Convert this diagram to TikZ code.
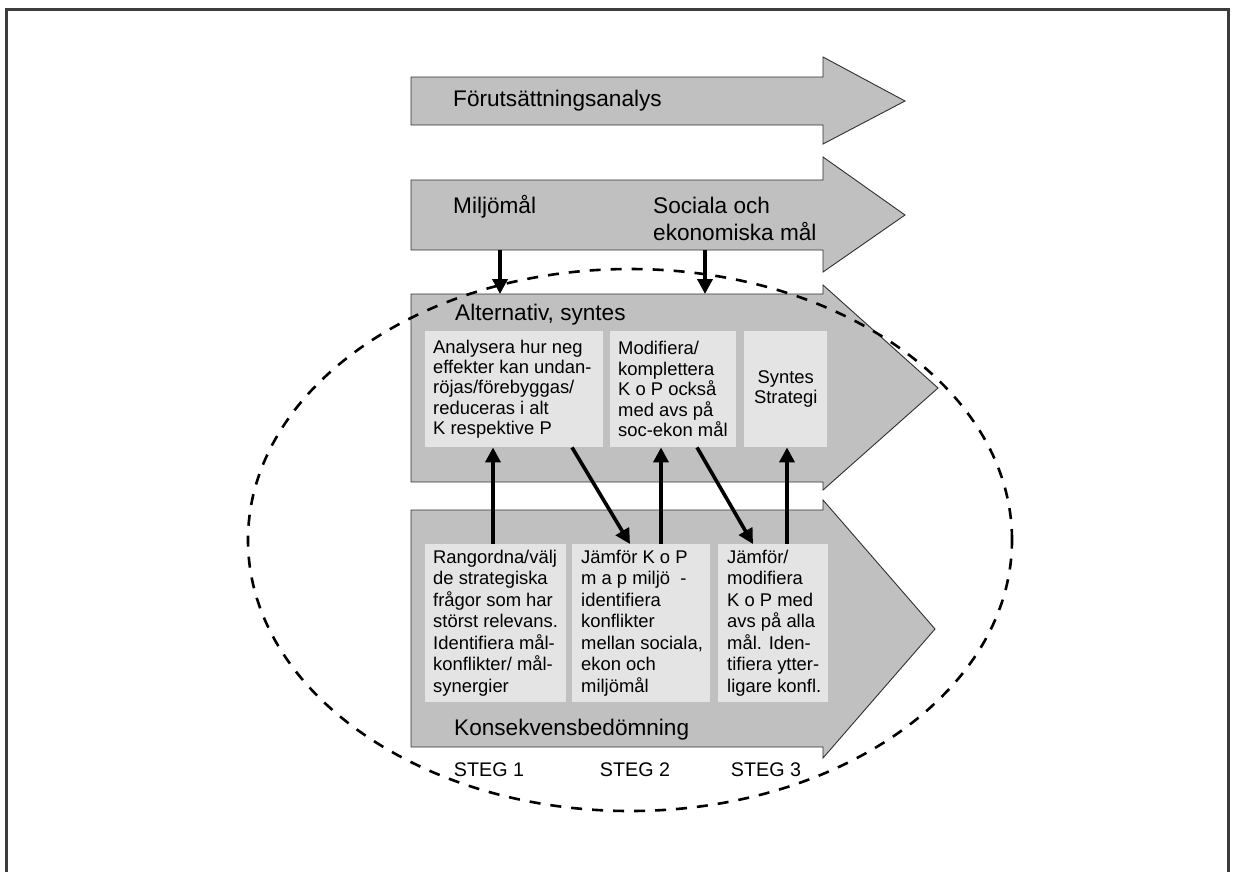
\documentclass[tikz,border=0pt]{standalone}
\usepackage{fontspec}
\setmainfont{Liberation Sans}
\usetikzlibrary{arrows.meta}
\definecolor{bandgray}{HTML}{C0C0C0}
\definecolor{boxgray}{HTML}{E4E4E4}
\definecolor{framegray}{HTML}{3C3C3C}
\definecolor{edgegray}{HTML}{303030}
\begin{document}
\begin{tikzpicture}[x=1pt,y=-1pt,
  band/.style={fill=bandgray,draw=edgegray,line width=0.9pt,line join=miter},
  kbox/.style={fill=boxgray,draw=none,inner sep=0pt,anchor=north west},
  atxt/.style={font=\fontsize{18.4}{20.4}\selectfont,align=left,inner sep=0pt,anchor=west},
  ktxt/.style={font=\fontsize{18.4}{21.5}\selectfont,align=left,inner sep=0pt,anchor=west},
  head/.style={font=\fontsize{22.6}{26.2}\selectfont,align=left,inner sep=0pt,anchor=west},
  steg/.style={font=\fontsize{19.7}{22}\selectfont,inner sep=0pt},
  conn/.style={line width=3.6pt,-{Triangle[width=15pt,length=15pt]}},
  ring/.style={line width=2.6pt,dash pattern=on 11pt off 10pt}]
\useasboundingbox (0,0) rectangle (1236,871);

% outer frame, open at the bottom
\draw[framegray,line width=3pt] (6.5,880) -- (6.5,9.8) -- (1228.7,9.8) -- (1228.7,880);

% process bands
\draw[band] (411,77) -- (823,77) -- (823,57) -- (905,101) -- (823,144) -- (823,125) -- (411,125) -- cycle;
\draw[band] (411,180) -- (823,180) -- (823,157) -- (905,215) -- (823,272) -- (823,250) -- (411,250) -- cycle;
\draw[band] (411,294) -- (823,294) -- (823,285) -- (938,388) -- (823,490) -- (823,482) -- (411,482) -- cycle;
\draw[band] (411,510) -- (823,510) -- (823,500) -- (935,629) -- (823,758) -- (823,747) -- (411,747) -- cycle;

\coordinate (mal-bot) at (411,250);
\coordinate (alt-top) at (411,294);

% band titles
\node[head] (forut) at (453,101) {Förutsättningsanalys};
\node[head] (miljo) at (453,207) {Miljömål};
\node[head] (socek) at (653,219) {Sociala och\\ekonomiska mål};
\node[head] (alttitle) at (455,315) {Alternativ, syntes};
\node[head] (konstitle) at (454,730) {Konsekvensbedömning};

% synthesis boxes
\node[kbox,minimum width=178pt,minimum height=116pt] (a1) at (425,331) {};
\node[kbox,minimum width=126pt,minimum height=116pt] (a2) at (610,331) {};
\node[kbox,minimum width=83pt,minimum height=116pt] (a3) at (744,331) {};
\node[atxt] (a1t) at ([xshift=8pt]a1.west) {Analysera hur neg\\effekter kan undan-\\röjas/förebyggas/\\reduceras i alt\\K respektive P};
\node[atxt] (a2t) at ([xshift=8pt]a2.west) {Modifiera/\\komplettera\\K o P också\\med avs på\\soc-ekon mål};
\node[atxt,align=center,anchor=center] (a3t) at (a3.center) {Syntes\\Strategi};

% assessment boxes
\node[kbox,minimum width=141pt,minimum height=158pt] (k1) at (425,544) {};
\node[kbox,minimum width=138pt,minimum height=158pt] (k2) at (572,544) {};
\node[kbox,minimum width=110pt,minimum height=158pt] (k3) at (718,544) {};
\node[ktxt] (k1t) at ([xshift=8pt]k1.west) {Rangordna/välj\\de strategiska\\frågor som har\\störst relevans.\\Identifiera mål-\\konflikter/ mål-\\synergier};
\node[ktxt] (k2t) at ([xshift=9pt]k2.west) {Jämför K o P\\m a p miljö~~-\\identifiera\\konflikter\\mellan sociala,\\ekon och\\miljömål};
\node[ktxt] (k3t) at ([xshift=9pt]k3.west) {Jämför/\\modifiera\\K o P med\\avs på alla\\mål. Iden-\\tifiera ytter-\\ligare konfl.};

% step labels
\node[steg] (s1) at (489,770) {STEG 1};
\node[steg] (s2) at (635,770) {STEG 2};
\node[steg] (s3) at (766,770) {STEG 3};

% dashed boundary of the assessment loop
\draw[ring] (630,540) ellipse [x radius=382pt, y radius=271pt];

% flows between bands and boxes
\draw[conn] ([xshift=89pt]mal-bot) -- ([xshift=89pt]alt-top);
\draw[conn] ([xshift=294pt]mal-bot) -- ([xshift=294pt]alt-top);
\draw[conn] ([xshift=68pt]k1.north west) -- ([xshift=68pt]a1.south west);
\draw[conn] ([xshift=89pt]k2.north west) -- ([xshift=51pt]a2.south west);
\draw[conn] ([xshift=69pt]k3.north west) -- ([xshift=43pt]a3.south west);
\draw[conn] ([xshift=147pt]a1.south west) -- ([xshift=58pt]k2.north west);
\draw[conn] ([xshift=87pt]a2.south west) -- ([xshift=35pt]k3.north west);
\end{tikzpicture}
\end{document}
